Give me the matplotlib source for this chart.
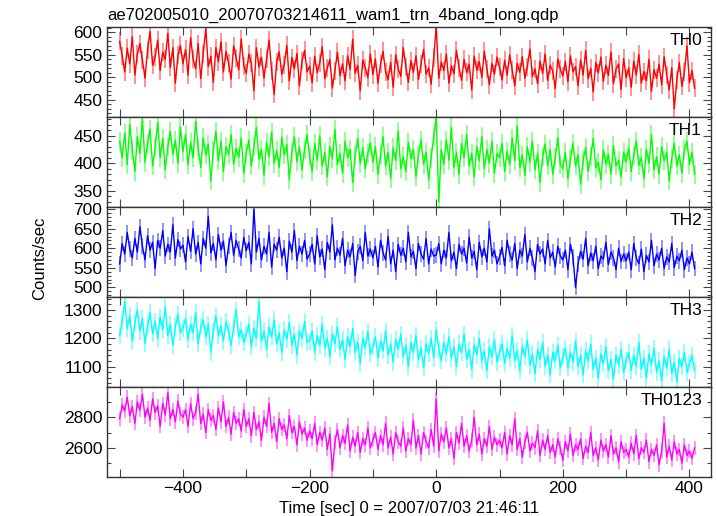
import numpy as np
import matplotlib
matplotlib.use("Agg")
import matplotlib.pyplot as plt
from matplotlib.ticker import MultipleLocator

plt.rcParams["font.family"] = ["Liberation Sans", "DejaVu Sans"]
plt.rcParams["font.size"] = 12

# 4 s bins, start of observation at -500 s
time = np.arange(-500, 412, 4)

th0 = [
    580, 548, 512, 565, 530, 590, 505, 552, 575, 538, 498, 560, 602, 527, 545, 583, 515, 556, 540, 598, 522, 566, 487, 549, 571,
    530, 562, 505, 588, 541, 519, 575, 497, 553, 608, 524, 547, 489, 566, 535, 579, 512, 558, 531, 496, 570, 543, 517, 585, 526,
    509, 552, 531, 470, 566, 523, 545, 498, 540, 583, 515, 462, 535, 557, 507, 528, 571, 492, 544, 519, 553, 481, 536, 560, 512,
    525, 488, 547, 510, 532, 568, 497, 521, 540, 476, 515, 556, 503, 530, 492, 548, 517, 585, 509, 527, 470, 538, 521, 499, 552,
    506, 541, 487, 529, 558, 512, 495, 533, 478, 550, 519, 502, 566, 524, 489, 537, 511, 548, 495, 530, 562, 507, 521, 485, 543,
    612, 498, 534, 515, 552, 487, 526, 508, 560, 521, 493, 540, 511, 529, 472, 547, 516, 535, 500, 558, 519, 484, 531, 507, 545,
    522, 494, 538, 505, 550, 517, 481, 531, 511, 546, 498, 524, 563, 502, 519, 486, 536, 509, 552, 493, 527, 514, 475, 541, 518,
    503, 535, 490, 548, 512, 524, 481, 539, 505, 560, 497, 520, 468, 533, 510, 545, 491, 527, 504, 556, 486, 518, 530, 473, 542,
    499, 521, 478, 536, 505, 551, 487, 513, 492, 540, 469, 517, 498, 529, 483, 546, 506, 472, 521, 430, 495, 533, 480, 512, 570,
    488, 515, 476,
]
th1 = [
    440, 410, 455, 398, 470, 425, 385, 448, 418, 480, 402, 436, 462, 395, 428, 474, 410, 445, 388, 430, 458, 416, 442, 400, 466,
    421, 452, 397, 438, 410, 476, 428, 392, 446, 415, 435, 368, 424, 458, 404, 440, 385, 430, 416, 452, 399, 427, 411, 446, 382,
    418, 442, 395, 430, 465, 407, 425, 378, 438, 412, 456, 400, 423, 392, 447, 415, 434, 370, 420, 448, 403, 430, 388, 425, 452,
    412, 385, 436, 405, 450, 395, 420, 375, 430, 408, 462, 398, 418, 382, 440, 410, 425, 365, 415, 445, 400, 428, 390, 418, 437,
    402, 430, 380, 415, 448, 395, 420, 372, 428, 405, 458, 390, 412, 385, 438, 408, 425, 376, 415, 442, 398, 420, 370, 410, 448,
    484, 330, 425, 398, 442, 405, 465, 392, 420, 380, 436, 410, 452, 395, 418, 375, 430, 405, 448, 390, 425, 400, 440, 382, 418,
    410, 436, 385, 422, 398, 445, 405, 468, 392, 415, 378, 430, 402, 440, 388, 418, 365, 412, 435, 395, 425, 380, 410, 446, 398,
    390, 420, 372, 408, 436, 395, 415, 362, 405, 428, 385, 412, 445, 392, 402, 370, 425, 398, 416, 380, 432, 395, 405, 375, 420,
    402, 428, 385, 415, 440, 396, 410, 372, 425, 400, 452, 388, 412, 380, 430, 405, 420, 368, 408, 436, 395, 415, 382, 425, 440,
    398, 420, 380,
]
th2 = [
    560, 612, 585, 640, 598, 575, 625, 590, 655, 605, 570, 632, 595, 615, 548, 620, 600, 645, 580, 610, 590, 660, 575, 622, 598,
    608, 565, 630, 592, 650, 585, 615, 560, 625, 600, 682, 588, 612, 570, 635, 595, 618, 556, 605, 640, 582, 620, 598, 575, 628,
    594, 615, 560, 700, 590, 625, 570, 605, 585, 640, 552, 610, 595, 628, 575, 600, 540, 618, 590, 645, 568, 605, 585, 620, 572,
    585, 610, 560, 632, 578, 598, 545, 615, 590, 660, 570, 600, 582, 625, 555, 595, 578, 612, 530, 590, 605, 568, 640, 580, 598,
    575, 605, 552, 620, 588, 570, 630, 560, 595, 540, 610, 582, 600, 565, 640, 578, 592, 548, 612, 585, 572, 625, 560, 598, 580,
    582, 612, 560, 595, 575, 640, 568, 590, 548, 610, 585, 600, 562, 628, 575, 592, 545, 615, 578, 600, 565, 650, 580, 595, 560,
    578, 602, 555, 620, 585, 570, 612, 548, 595, 580, 635, 565, 600, 575, 540, 610, 585, 598, 560, 620, 575, 590, 552, 605, 580,
    570, 595, 545, 610, 578, 500, 560, 592, 572, 625, 555, 588, 568, 605, 548, 580, 572, 615, 558, 590, 575, 545, 600, 566, 585,
    568, 590, 545, 612, 575, 560, 598, 540, 582, 565, 620, 555, 585, 570, 600, 548, 578, 565, 612, 550, 580, 568, 595, 545, 575,
    560, 590, 548,
]
th3 = [
    1210, 1260, 1330, 1235, 1280, 1190, 1255, 1300, 1225, 1270, 1180, 1245, 1290, 1215, 1260, 1200, 1275, 1230, 1310, 1210, 1250, 1175, 1240, 1285, 1220,
    1235, 1270, 1195, 1250, 1220, 1290, 1180, 1240, 1265, 1205, 1250, 1150, 1225, 1280, 1210, 1245, 1190, 1260, 1225, 1175, 1240, 1300, 1205, 1230, 1185,
    1215, 1250, 1170, 1235, 1200, 1330, 1190, 1225, 1160, 1240, 1205, 1265, 1180, 1220, 1150, 1230, 1195, 1255, 1175, 1215, 1140, 1225, 1200, 1260, 1185,
    1190, 1225, 1150, 1210, 1175, 1250, 1165, 1200, 1135, 1215, 1180, 1240, 1160, 1195, 1125, 1205, 1170, 1235, 1150, 1185, 1110, 1200, 1165, 1225, 1145,
    1170, 1205, 1130, 1190, 1155, 1225, 1140, 1180, 1115, 1195, 1160, 1215, 1135, 1175, 1100, 1185, 1150, 1210, 1125, 1165, 1095, 1180, 1145, 1200, 1130,
    1230, 1160, 1120, 1185, 1145, 1205, 1130, 1170, 1100, 1180, 1150, 1215, 1125, 1160, 1090, 1175, 1140, 1200, 1120, 1155, 1085, 1170, 1135, 1195, 1115,
    1150, 1180, 1110, 1165, 1130, 1210, 1120, 1155, 1085, 1170, 1135, 1195, 1105, 1145, 1075, 1160, 1125, 1185, 1100, 1140, 1070, 1150, 1120, 1175, 1095,
    1135, 1165, 1095, 1150, 1115, 1190, 1100, 1140, 1070, 1155, 1120, 1180, 1090, 1130, 1060, 1145, 1110, 1170, 1085, 1125, 1055, 1140, 1105, 1160, 1080,
    1120, 1150, 1085, 1140, 1100, 1185, 1090, 1130, 1060, 1145, 1105, 1165, 1080, 1120, 1050, 1135, 1095, 1160, 1075, 1115, 1045, 1130, 1100, 1150, 1080,
    1110, 1140, 1085,
]
th0123 = [
    2790, 2880, 2840, 2930, 2810, 2870, 2760, 2900, 2845, 2950, 2800, 2860, 2780, 2920, 2830, 2875, 2740, 2890, 2815, 2960, 2790, 2850, 2770, 2905, 2820,
    2800, 2850, 2740, 2890, 2790, 2830, 2950, 2760, 2820, 2700, 2850, 2780, 2810, 2720, 2860, 2770, 2900, 2740, 2800, 2690, 2830, 2760, 2790, 2710, 2850,
    2740, 2790, 2680, 2830, 2720, 2770, 2650, 2800, 2740, 2890, 2700, 2760, 2640, 2790, 2720, 2750, 2660, 2810, 2700, 2740, 2620, 2770, 2690, 2730, 2650,
    2710, 2660, 2760, 2620, 2700, 2650, 2730, 2590, 2690, 2450, 2640, 2720, 2600, 2680, 2630, 2750, 2580, 2670, 2610, 2700, 2570, 2660, 2620, 2730, 2600,
    2650, 2700, 2590, 2680, 2620, 2760, 2600, 2670, 2560, 2700, 2640, 2610, 2730, 2580, 2660, 2620, 2780, 2600, 2680, 2560, 2700, 2640, 2600, 2720, 2610,
    2920, 2580, 2690, 2640, 2730, 2600, 2660, 2530, 2700, 2630, 2760, 2610, 2680, 2580, 2650, 2800, 2620, 2690, 2560, 2660, 2610, 2740, 2590, 2670, 2620,
    2650, 2600, 2700, 2560, 2680, 2620, 2790, 2590, 2660, 2540, 2640, 2700, 2580, 2630, 2600, 2710, 2550, 2650, 2590, 2680, 2570, 2620, 2540, 2660, 2600,
    2520, 2640, 2580, 2690, 2550, 2620, 2590, 2660, 2530, 2610, 2570, 2700, 2550, 2600, 2520, 2650, 2580, 2620, 2540, 2680, 2560, 2600, 2510, 2640, 2570,
    2590, 2540, 2630, 2560, 2680, 2530, 2600, 2570, 2650, 2510, 2590, 2550, 2620, 2490, 2580, 2760, 2540, 2610, 2520, 2640, 2560, 2590, 2500, 2620, 2550,
    2580, 2530, 2600,
]

names = ["TH0", "TH1", "TH2", "TH3", "TH0123"]
series = [th0, th1, th2, th3, th0123]
errors = [20, 17, 20, 30, 45]
colors = ["#ff0000", "#00ff00", "#0000ff", "#00ffff", "#ff00ff"]
ylims = [(412, 612), (321, 484), (476, 706), (1029, 1347), (2413, 3000)]
major = [50, 50, 50, 100, 200]
minor = [10, 10, 10, 20, 100]

fig = plt.figure(figsize=(7.17, 5.16), dpi=100)
left, width = 107 / 717, 604 / 717
top, h = 1 - 27 / 516, 89.9 / 516

axes = []
for i in range(5):
    ax = fig.add_axes([left, top - (i + 1) * h, width, h])
    y = np.array(series[i])
    ax.errorbar(time, y, yerr=errors[i], fmt="none", ecolor=colors[i],
                elinewidth=1.2, alpha=0.5)
    ax.plot(time, y, color=colors[i], lw=1.0)
    ax.set_xlim(-520, 434)
    ax.set_ylim(*ylims[i])
    ax.xaxis.set_major_locator(MultipleLocator(200))
    ax.xaxis.set_minor_locator(MultipleLocator(100))
    ax.yaxis.set_major_locator(MultipleLocator(major[i]))
    ax.yaxis.set_minor_locator(MultipleLocator(minor[i]))
    ax.tick_params(which="both", direction="in", top=True, right=True,
                   color="#444444", width=0.8, labelsize=12.5)
    ax.tick_params(which="major", length=6)
    ax.tick_params(which="minor", length=3)
    ax.tick_params(axis="x", which="minor", length=6)
    for s in ax.spines.values():
        s.set_color("#333333")
        s.set_linewidth(1.0)
    ax.text(0.985, 0.93, names[i], transform=ax.transAxes, ha="right",
            va="top", fontsize=12.5)
    if i < 4:
        ax.tick_params(labelbottom=False)
    axes.append(ax)

# keep only y labels inside each panel's range
for ax, lo_hi in zip(axes, ylims):
    ticks = [t for t in ax.get_yticks() if lo_hi[0] <= t <= lo_hi[1]]
    ax.set_yticks(ticks)

axes[4].set_yticks([2600, 2800])

fig.text(107 / 717, 1 - 15 / 516, "ae702005010_20070703214611_wam1_trn_4band_long.qdp",
         ha="left", va="center", fontsize=12)
fig.text(40 / 717, 1 - 258 / 516, "Counts/sec", rotation=90, ha="center", va="center",
         fontsize=12)
fig.text(409 / 717, 1 - 508 / 516, "Time [sec] 0 = 2007/07/03 21:46:11",
         ha="center", va="center", fontsize=12)

fig.savefig("out.png", dpi=100)
